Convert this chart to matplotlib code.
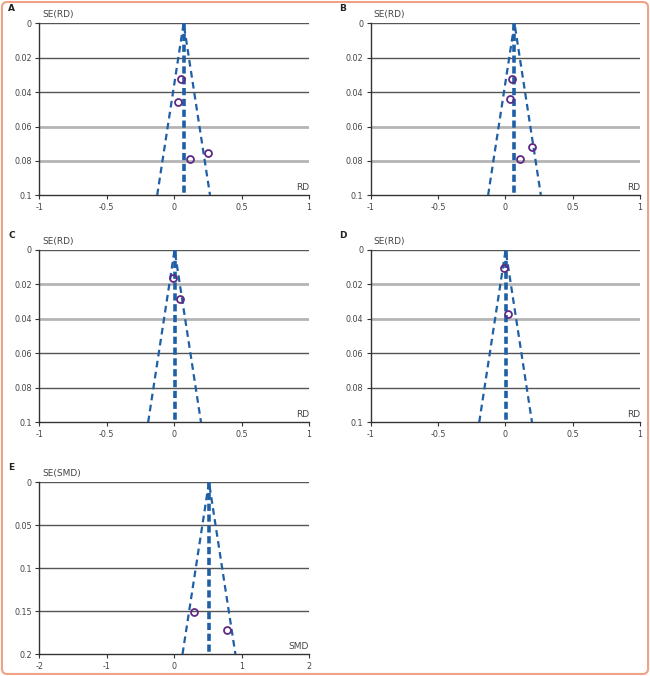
import matplotlib.pyplot as plt
from matplotlib.patches import FancyBboxPatch

plt.rcParams['axes.unicode_minus'] = False

# ----------------------------
# Funnel plots, panels A-E
# ----------------------------
panels = ["A", "B", "C", "D", "E"]
y_labels = ["SE(RD)", "SE(RD)", "SE(RD)", "SE(RD)", "SE(SMD)"]
x_labels = ["RD", "RD", "RD", "RD", "SMD"]

# pooled estimates (funnel centres)
pooled = [0.07, 0.068, 0.003, 0.002, 0.516]
se_max = [0.1, 0.1, 0.1, 0.1, 0.2]

# study effects and standard errors
effects = [
    [0.052, 0.027, 0.248, 0.116],
    [0.052, 0.034, 0.197, 0.108],
    [-0.012, 0.045],
    [-0.010, 0.020],
    [0.291, 0.780],
]
std_errs = [
    [0.0326, 0.0459, 0.0752, 0.0789],
    [0.0326, 0.0442, 0.0717, 0.0789],
    [0.016, 0.0282],
    [0.0107, 0.037],
    [0.1515, 0.172],
]

x_ticks = [[-1, -0.5, 0, 0.5, 1]] * 4 + [[-2, -1, 0, 1, 2]]
y_ticks = [[0, 0.02, 0.04, 0.06, 0.08, 0.1]] * 4 + [[0, 0.05, 0.1, 0.15, 0.2]]
y_ticklabels = [["0", "0.02", "0.04", "0.06", "0.08", "0.1"]] * 4 + \
               [["0", "0.05", "0.1", "0.15", "0.2"]]
# which gridlines are drawn light/thick in the original
light_grid = [[0.06, 0.08], [0.06, 0.08], [0.02, 0.04], [0.02, 0.04], []]

# axes rectangles (fig fractions)
rects = [
    [0.0605, 0.7111, 0.4149, 0.2544],
    [0.5703, 0.7111, 0.4143, 0.2544],
    [0.0605, 0.3753, 0.4149, 0.2549],
    [0.5703, 0.3753, 0.4143, 0.2549],
    [0.0605, 0.0325, 0.4149, 0.2541],
]

BLUE = "#1f5fa6"
PURPLE = "#5e2a84"
TXT = "#444444"


def draw_panel(fig, i):
    ax = fig.add_axes(rects[i])
    xt = x_ticks[i]
    ymax = se_max[i]
    ax.set_xlim(xt[0], xt[-1])
    ax.set_ylim(ymax, 0)

    for yv in y_ticks[i][:-1]:
        if yv in light_grid[i]:
            ax.axhline(yv, color="#b4b4b4", lw=2.0, zorder=1)
        else:
            ax.axhline(yv, color="#555555", lw=1.0, zorder=1)

    c = pooled[i]
    half = 1.96 * ymax
    ax.plot([c - half, c, c + half], [ymax, 0, ymax], ls=(0, (3, 2)),
            color=BLUE, lw=1.6, zorder=3)
    ax.plot([c, c], [0, ymax], ls=(0, (2, 1)), color=BLUE, lw=2.6, zorder=3)

    ax.plot(effects[i], std_errs[i], "o", ms=5, mfc="none", mec=PURPLE,
            mew=1.3, zorder=4)

    for s in ["top", "right"]:
        ax.spines[s].set_visible(False)
    for s in ["left", "bottom"]:
        ax.spines[s].set_color("#333333")
        ax.spines[s].set_linewidth(1.0)

    ax.set_xticks(xt)
    ax.set_xticklabels([str(v) for v in xt])
    ax.set_yticks(y_ticks[i])
    ax.set_yticklabels(y_ticklabels[i])
    ax.tick_params(axis="both", labelsize=5.8, colors="#333333",
                   labelcolor=TXT, length=3, width=0.8, pad=2.5)

    ax.text(0.01, 1.025, y_labels[i], transform=ax.transAxes, fontsize=6.5,
            color=TXT, ha="left", va="bottom")
    ax.text(1.0, 0.02, x_labels[i], transform=ax.transAxes, fontsize=6.5,
            color=TXT, ha="right", va="bottom")
    ax.text(rects[i][0] - 0.048, rects[i][1] + rects[i][3] + 0.0152, panels[i],
            transform=fig.transFigure, fontsize=6.5, fontweight="bold",
            color="#222222", ha="left", va="bottom")
    return ax


def main():
    fig = plt.figure(figsize=(6.5, 6.76), dpi=100)

    border = FancyBboxPatch((0.003, 0.003), 0.994, 0.994,
                            boxstyle="round,pad=0,rounding_size=0.008",
                            transform=fig.transFigure, fill=False,
                            edgecolor="#f0a286", lw=1.5)
    fig.patches.append(border)

    for i in range(len(panels)):
        draw_panel(fig, i)

    fig.savefig("out.png", dpi=100)


if __name__ == "__main__":
    main()
